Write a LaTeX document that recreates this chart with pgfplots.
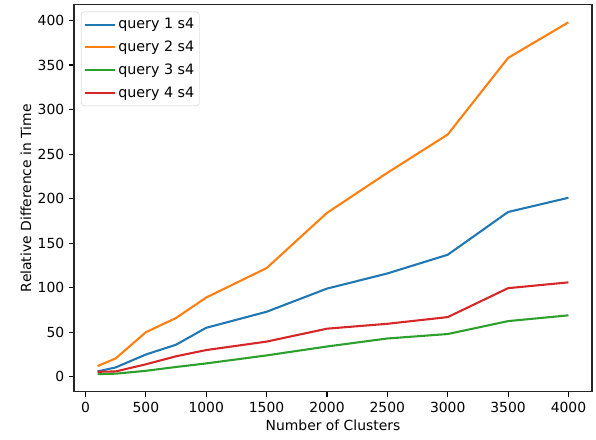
\documentclass[border=0pt]{standalone}
\usepackage{fontspec}
\setmainfont{DejaVu Sans}
\usepackage{pgfplots}
\pgfplotsset{compat=1.18}
\definecolor{tabblue}{HTML}{1F77B4}
\definecolor{taborange}{HTML}{FF7F0E}
\definecolor{tabgreen}{HTML}{2CA02C}
\definecolor{tabred}{HTML}{D62728}
\begin{document}
\begin{tikzpicture}
\fontsize{13.9bp}{16bp}\selectfont
\begin{axis}[
  name=ax,
  scale only axis,
  width=518bp, height=387bp,
  xmin=-95, xmax=4195,
  ymin=-16.75, ymax=417.75,
  xtick={0,500,...,4000},
  ytick={0,50,...,400},
  xtick pos=left, ytick pos=left,
  tick align=outside,
  major tick length=4.9bp,
  every tick/.style={black, line width=1.1bp},
  axis line style={line width=1.1bp, black!85},
  tick label style={font=\fontsize{13.9bp}{16bp}\selectfont},
  label style={font=\fontsize{13.9bp}{16bp}\selectfont},
  /pgf/number format/assume math mode=true,
  /pgf/number format/1000 sep={},
  xticklabel style={yshift=-1bp},
  xlabel={Number of Clusters},
  ylabel={Relative Difference in Time},
  xlabel style={yshift=2bp},
  ylabel style={yshift=-3bp},
  legend style={
    at={(0,1)}, anchor=north west, xshift=7bp, yshift=-7bp,
    draw=black!20, rounded corners=3bp, fill=white, fill opacity=0.8, text opacity=1,
    font=\fontsize{14.3bp}{16bp}\selectfont,
    inner xsep=3bp, inner ysep=4.5bp, row sep=6.2bp,
    /tikz/every even column/.append style={column sep=9bp},
  },
  legend cell align=left,
  legend image code/.code={\draw[#1] (0bp,0bp) -- (30bp,0bp);},
  every axis plot/.append style={line width=2.08bp, line join=round},
]
\addplot[tabblue] coordinates {(100,6) (250,10.5) (500,25) (750,36) (1000,55) (1500,73) (2000,99) (2500,116) (3000,137) (3500,185) (4000,201)};
\addlegendentry{query 1 s4}
\addplot[taborange] coordinates {(100,12) (250,20.6) (500,50) (750,66) (1000,89) (1500,122) (2000,184) (2500,229) (3000,272) (3500,358) (4000,398)};
\addlegendentry{query 2 s4}
\addplot[tabgreen] coordinates {(100,3) (250,3.5) (500,6.7) (750,11) (1000,15) (1500,24) (2000,34) (2500,43) (3000,48) (3500,62.5) (4000,69)};
\addlegendentry{query 3 s4}
\addplot[tabred] coordinates {(100,5.6) (250,6) (500,14) (750,23) (1000,30) (1500,39.5) (2000,54) (2500,59.5) (3000,67) (3500,99.5) (4000,106)};
\addlegendentry{query 4 s4}
\end{axis}
\path (ax.south west) ++(-74bp,-48.3bp) coordinate (bl);
\path (ax.north east) ++(4bp,4.7bp) coordinate (tr);
\path (bl) rectangle (tr);
\end{tikzpicture}
\end{document}
